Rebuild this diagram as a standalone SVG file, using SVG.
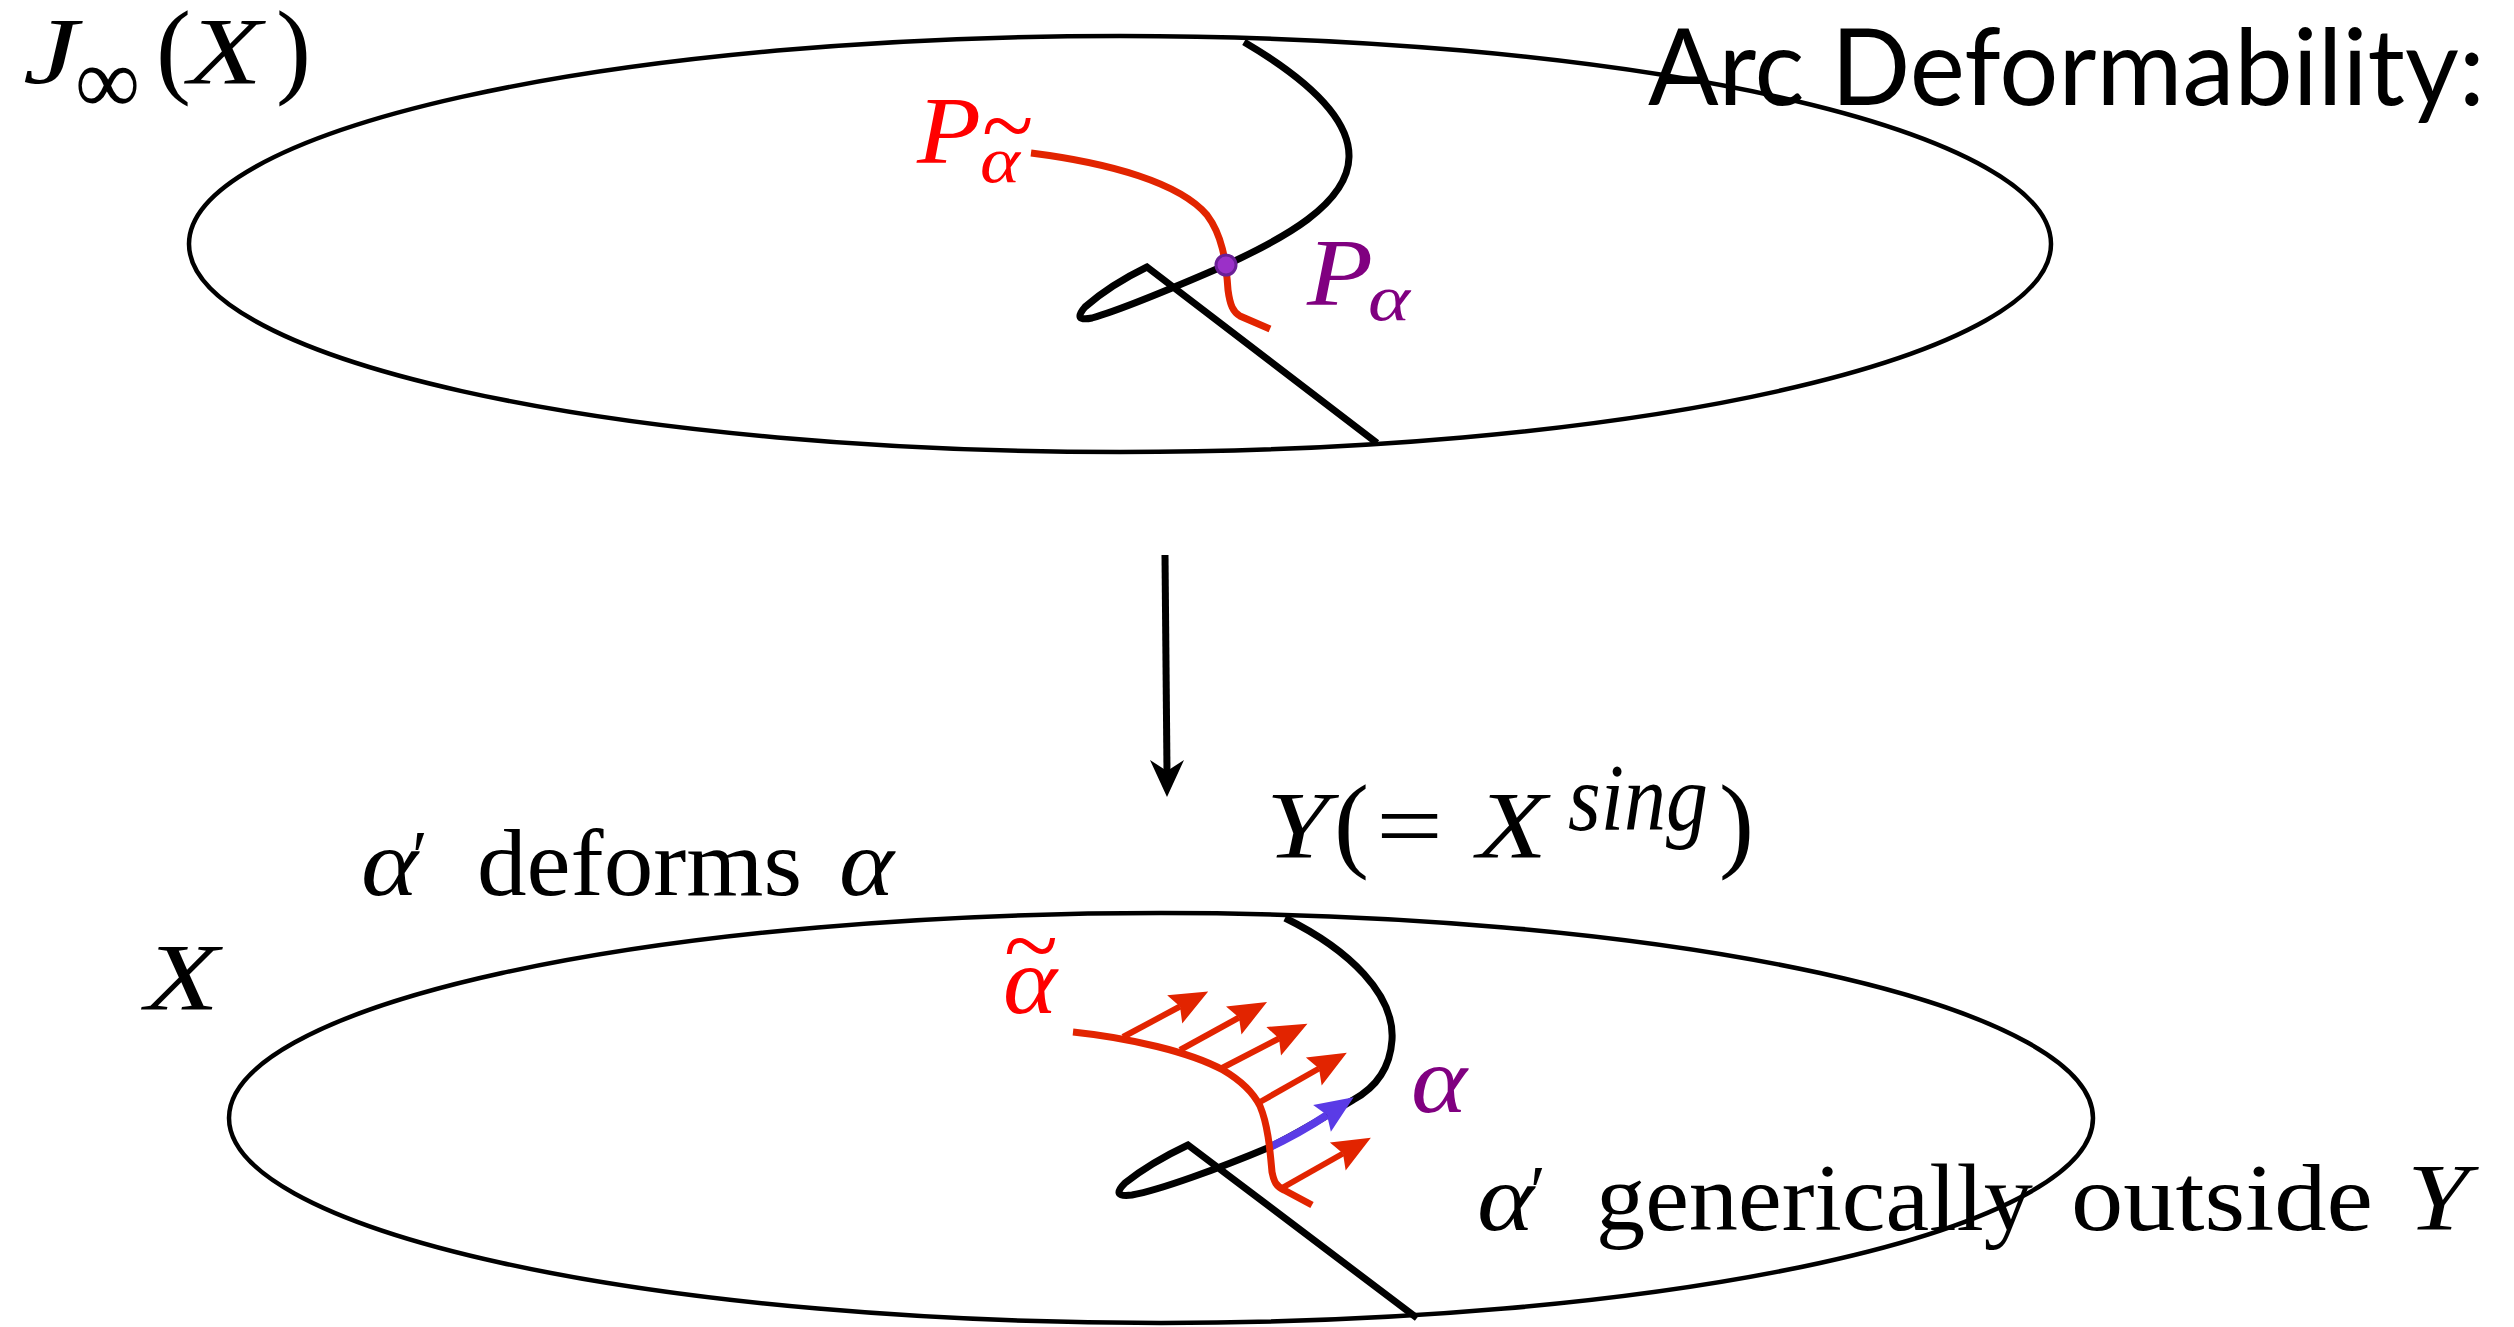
<svg xmlns="http://www.w3.org/2000/svg" width="2514" height="1327" viewBox="0 0 2514 1327">
<style>
.plane{fill:none;stroke:#000;stroke-width:4.5}
.sing{fill:none;stroke:#000;stroke-width:7;stroke-linejoin:miter}
.arc{fill:none;stroke:#e22400;stroke-width:7}
.vec{fill:none;stroke:#e22400;stroke-width:6;marker-end:url(#redhead)}
.math{font-family:"Liberation Serif","Times New Roman",serif;font-size:95px;fill:#000}
.it{font-style:italic}
.sub{font-size:66px}
.par{font-size:105px}
.prime{font-size:72px}
.red{fill:#ff0000}
.pur{fill:#800080}
.title{font-family:Lato,"Open Sans",sans-serif;font-size:106px;fill:#000}
</style>
<defs>
<marker id="redhead" markerUnits="userSpaceOnUse" markerWidth="50" markerHeight="40" viewBox="-10 -20 50 40" refX="0" refY="0" orient="auto" overflow="visible">
<path d="M32,0 L-6,-16 L0,0 L-6,16 Z" fill="#e22400"/>
</marker>
<marker id="bluehead" markerUnits="userSpaceOnUse" markerWidth="50" markerHeight="40" viewBox="-10 -20 50 40" refX="0" refY="0" orient="auto" overflow="visible">
<path d="M32,0 L-6,-16 L0,0 L-6,16 Z" fill="#5a3be6"/>
</marker>
</defs>
<rect width="2514" height="1327" fill="#fff"/>

<g id="top-space">
<ellipse class="plane" cx="1120" cy="244" rx="931" ry="208"/>
<path class="sing" d="M1244,42 C1300,75 1350,115 1349,157 C1348,205 1280,240 1226,265 C1180,285 1120,310 1092,318 Q1072,322 1085,307 Q1110,285 1147,267 L1377,443"/>
<path class="arc" d="M1031,153 C1110,163 1180,183 1207,215 C1222,235 1226,260 1228,290 C1230,305 1233,312 1240,316 L1270,329"/>
<circle cx="1226" cy="265" r="10" fill="#9b30c8" stroke="#6b1f96" stroke-width="3"/>
</g>

<g id="bottom-space">
<ellipse class="plane" cx="1161" cy="1118" rx="932" ry="205"/>
<path class="sing" d="M1285,918 C1350,950 1395,995 1392,1040 C1390,1070 1375,1088 1353,1100 C1320,1120 1290,1137 1270,1147 C1220,1168 1160,1190 1132,1195 Q1110,1198 1125,1183 Q1150,1163 1188,1145 L1417,1318"/>
<path d="M1268,1148 Q1300,1133 1327,1115" fill="none" stroke="#5a3be6" stroke-width="8" marker-end="url(#bluehead)"/>
<path class="arc" d="M1073,1032 C1130,1038 1190,1052 1223,1070 C1240,1080 1253,1092 1260,1106 C1268,1125 1270,1150 1272,1172 C1274,1182 1276,1186 1284,1190 L1312,1205"/>
<line class="vec" x1="1123" y1="1037" x2="1180" y2="1006.5"/>
<line class="vec" x1="1180" y1="1050" x2="1239" y2="1017.5"/>
<line class="vec" x1="1222" y1="1068" x2="1279" y2="1038.5"/>
<line class="vec" x1="1260" y1="1102" x2="1319" y2="1068.5"/>
<line class="vec" x1="1282" y1="1188" x2="1343" y2="1153.5"/>
</g>

<g id="connectors">
<line x1="1165" y1="555" x2="1167" y2="772" stroke="#000" stroke-width="7"/>
<polygon points="1167,797 1150,760 1167,771 1184,760" fill="#000"/>
</g>

<g id="labels">
<text class="title" x="1648" y="105" textLength="837" lengthAdjust="spacingAndGlyphs">Arc Deformability:</text>

<text class="math it" x="23" y="84" textLength="55" lengthAdjust="spacingAndGlyphs">J</text>
<text class="math" x="75" y="113" font-size="72" textLength="65" lengthAdjust="spacingAndGlyphs">∞</text>
<text class="math par" x="156" y="84">(</text>
<text class="math it" x="188" y="84" font-size="98" textLength="74" lengthAdjust="spacingAndGlyphs">X</text>
<text class="math par" x="276" y="84">)</text>

<text class="math it red" x="917" y="163" textLength="64" lengthAdjust="spacingAndGlyphs">P</text>
<text class="math red" x="982" y="157" font-size="76">~</text>
<text class="math it red sub" x="980" y="182" textLength="40" lengthAdjust="spacingAndGlyphs">α</text>

<text class="math it pur" x="1307" y="305" textLength="66" lengthAdjust="spacingAndGlyphs">P</text>
<text class="math it pur sub" x="1368" y="320" textLength="42" lengthAdjust="spacingAndGlyphs">α</text>

<text class="math it" x="1266" y="858" font-size="98" textLength="63" lengthAdjust="spacingAndGlyphs">Y</text>
<text class="math par" x="1334" y="858">(</text>
<text class="math" x="1376" y="858" textLength="67" lengthAdjust="spacingAndGlyphs">=</text>
<text class="math it" x="1477" y="858" font-size="98" textLength="70" lengthAdjust="spacingAndGlyphs">X</text>
<text class="math it" x="1568" y="830" font-size="68" textLength="140" lengthAdjust="spacingAndGlyphs">sing</text>
<text class="math par" x="1719" y="858">)</text>

<text class="math it" x="361" y="895" font-size="100" textLength="57" lengthAdjust="spacingAndGlyphs">α</text>
<text class="math prime" x="412" y="880">′</text>
<text class="math" x="477" y="895" textLength="325" lengthAdjust="spacingAndGlyphs">deforms</text>
<text class="math it" x="839" y="895" font-size="100" textLength="55" lengthAdjust="spacingAndGlyphs">α</text>

<text class="math it" x="145" y="1010" font-size="98" textLength="74" lengthAdjust="spacingAndGlyphs">X</text>

<text class="math red" x="1004" y="977" font-size="100" textLength="54" lengthAdjust="spacingAndGlyphs">~</text>
<text class="math it red" x="1003" y="1013" font-size="100" textLength="54" lengthAdjust="spacingAndGlyphs">α</text>

<text class="math it pur" x="1411" y="1112" font-size="100" textLength="56" lengthAdjust="spacingAndGlyphs">α</text>

<text class="math it" x="1477" y="1230" font-size="100" textLength="57" lengthAdjust="spacingAndGlyphs">α</text>
<text class="math prime" x="1530" y="1215">′</text>
<text class="math" x="1596" y="1230" textLength="437" lengthAdjust="spacingAndGlyphs">generically</text>
<text class="math" x="2071" y="1230" textLength="302" lengthAdjust="spacingAndGlyphs">outside</text>
<text class="math it" x="2407" y="1230" font-size="98" textLength="62" lengthAdjust="spacingAndGlyphs">Y</text>
</g>
</svg>
